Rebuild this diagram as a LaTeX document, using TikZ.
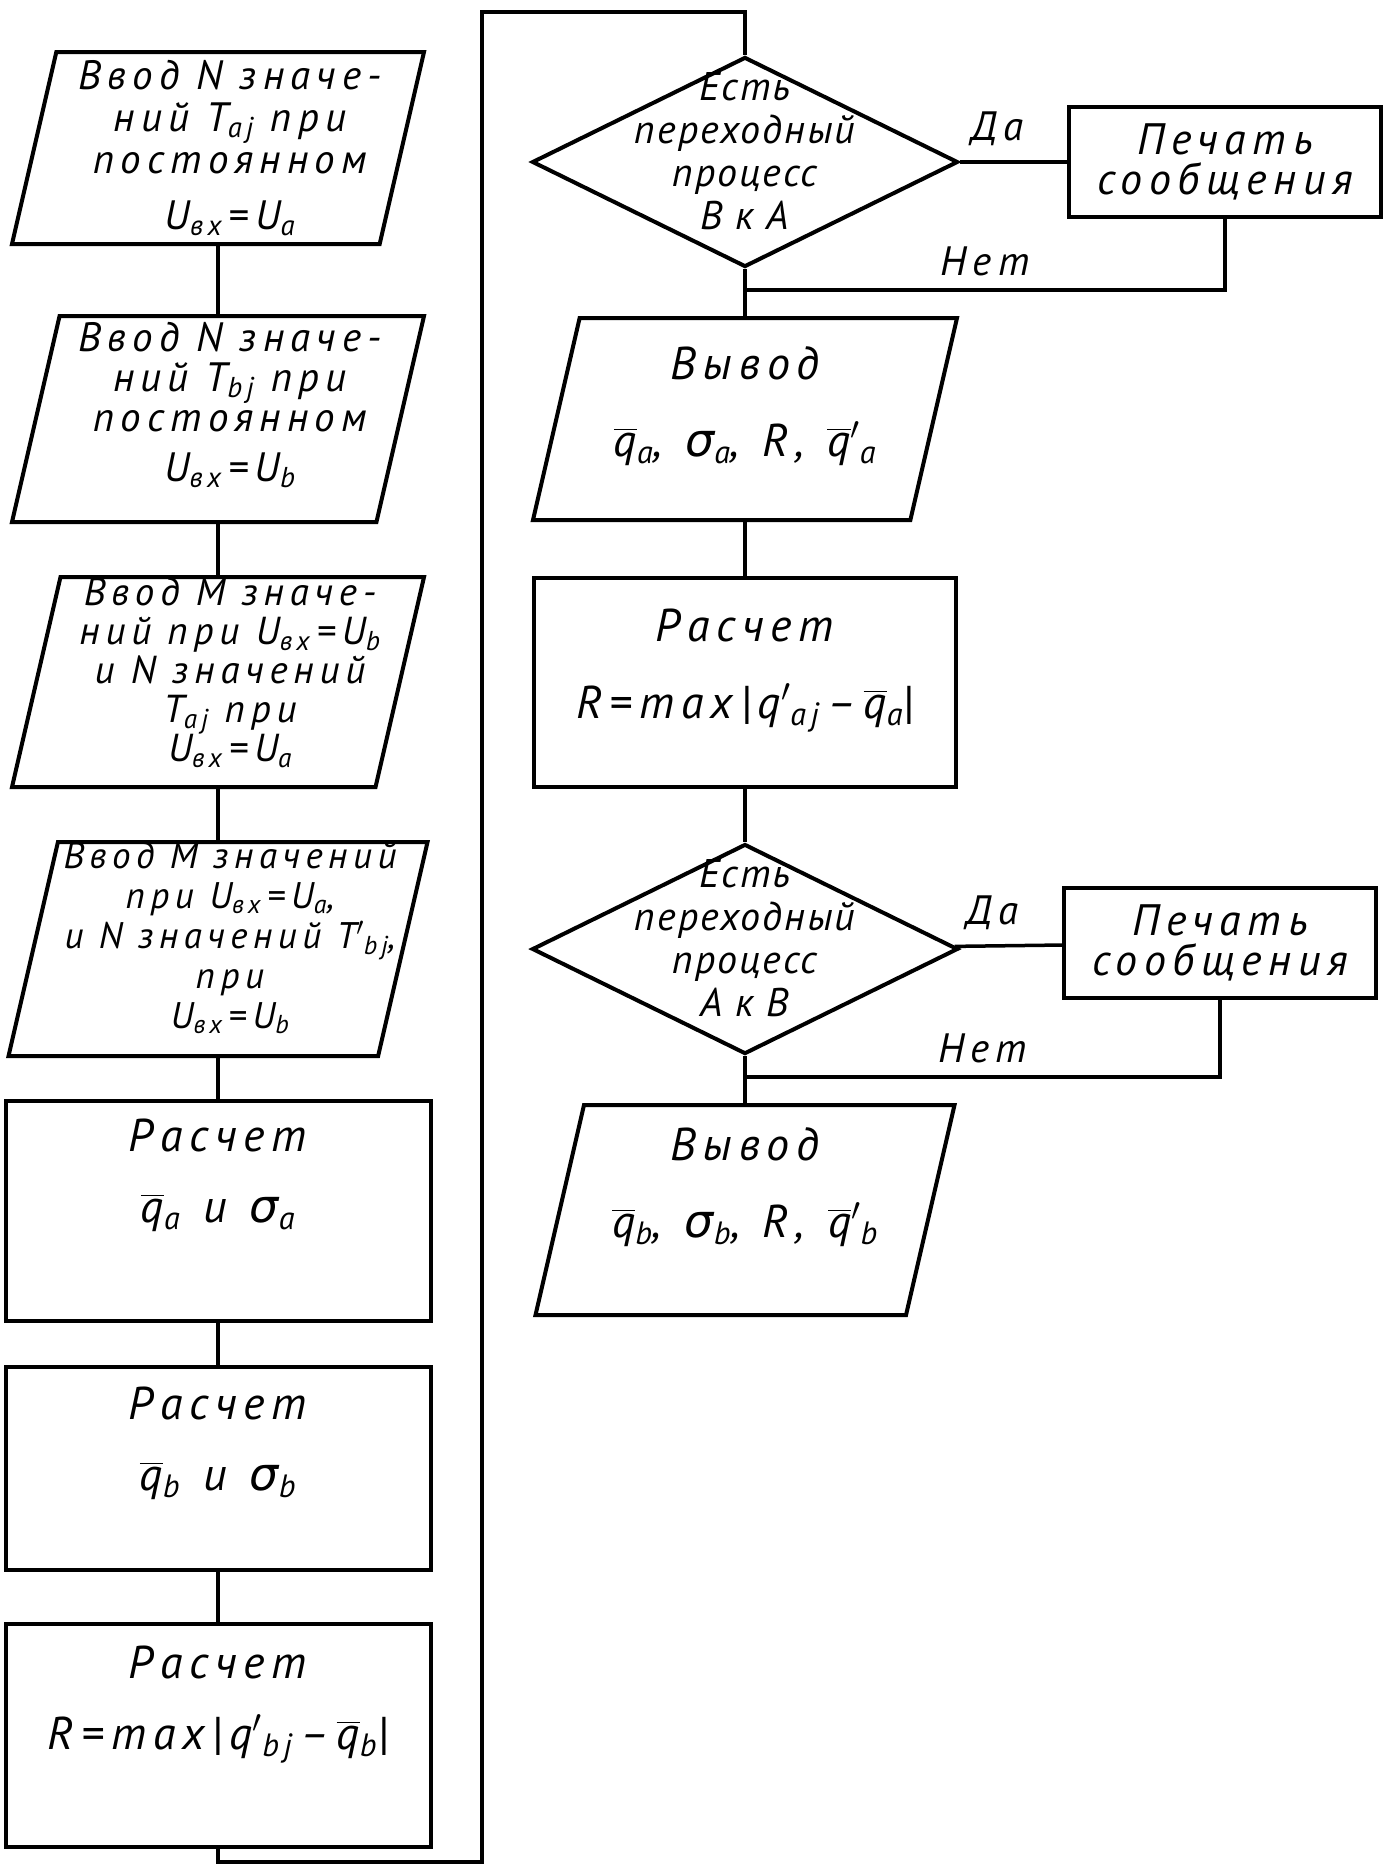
\RequirePackage{fix-cm}
\documentclass[tikz,border=0pt]{standalone}
\usepackage{amsmath}
\usepackage{fontspec}
\setmainfont{PT Sans}
\newfontfamily\gost[LetterSpace=15]{PT Sans}
\newfontfamily\narrow[LetterSpace=5]{PT Sans}
\newfontfamily\grk{DejaVu Sans}
\usepackage{tikz}
\usetikzlibrary{positioning,shapes.geometric}
\newcommand{\sub}[1]{\textsubscript{#1}}
\newcommand{\qb}{$\overline{\text{q}}$}
\newcommand{\sg}{{\grk\itshape σ}}
\newcommand{\pr}{$'$}

\begin{document}
\begin{tikzpicture}[x=1pt, y=-1pt, every node/.style={font=\fontsize{41}{40}\gost\itshape, inner sep=0pt}, io/.style={trapezium, trapezium left angle=77, trapezium right angle=103, trapezium stretches body=true, draw, line width=4pt, inner xsep=0pt, inner ysep=#1, minimum width=412pt}, iotext/.style={align=center, xshift=12pt}, calc/.style={rectangle, draw, line width=4pt, minimum width=425pt}, ctext/.style={align=center, font=\fontsize{46}{44}\gost\itshape}, decision/.style={diamond, draw, line width=4pt, minimum width=426pt, minimum height=210pt}, dtext/.style={font=\fontsize{40}{43}\narrow\itshape, align=center, yshift=11pt}, msg/.style={rectangle, draw, line width=4pt, align=center, font=\fontsize{44}{40}\gost\itshape, minimum width=312pt, minimum height=110pt}, conn/.style={line width=3.5pt}]
\useasboundingbox (0,0) rectangle (1387,1866);
\node[io=96pt, label={[iotext, font=\fontsize{41}{42}\gost\itshape]center:{Ввод N значе-\\ний T\sub{aj} при\\постоянном\\[14pt]U\sub{вх}\,=\,U\sub{a}}}] (in1) at (218,148) {};
\node[io=103pt, below=68pt of in1, label={[iotext, yshift=14pt]center:{Ввод N значе-\\ний T\sub{bj} при\\постоянном\\[10pt]U\sub{вх}\,=\,U\sub{b}}}] (in2) {};
\node[io=105pt, below=51pt of in2, label={[iotext, yshift=9pt, font=\fontsize{39}{39}\gost\itshape]center:{Ввод M значе-\\ний при U\sub{вх}\,=\,U\sub{b}\\и N значений\\T\sub{aj} при\\U\sub{вх}\,=\,U\sub{a}}}] (in3) {};
\node[io=107pt, minimum width=419pt, below=51pt of in3, label={[iotext, yshift=11pt, font=\fontsize{37}{40}\gost\itshape]center:{Ввод M значений\\при U\sub{вх}\,=\,U\sub{a},\\и N значений T\pr\sub{bj},\\при\\U\sub{вх}\,=\,U\sub{b}}}] (in4) {};
\node[calc, minimum height=220pt, below=41pt of in4, label={[ctext, yshift=36pt]center:{Расчет\\[27pt]\qb\sub{a}\enspace и\enspace \sg\sub{a}}}] (calc5) {};
\node[calc, minimum height=203pt, below=42pt of calc5, label={[ctext, yshift=25pt]center:{Расчет\\[27pt]\qb\sub{b}\enspace и\enspace \sg\sub{b}}}] (calc6) {};
\node[calc, minimum height=223pt, below=50pt of calc6, label={[ctext, yshift=31pt]center:{Расчет\\[27pt]R\,=\,max|q\pr\sub{bj}\,–\,\qb\sub{b}|}}] (calc7) {};
\node[decision, label={[dtext]center:{Есть\\переходный\\процесс\\В к А}}] (d1) at (745,162) {};
\node[msg, right=107pt of d1] (msg1) {Печать\\сообщения};
\node[io=101pt, minimum width=424pt, below=47pt of d1, label={[ctext, yshift=13pt]center:{Вывод\\[33pt]\qb\sub{a},\enspace\sg\sub{a},\enspace R,\enspace\qb\pr\sub{a}}}] (out1) {};
\node[calc, minimum height=209pt, minimum width=422pt, below=54pt of out1, label={[ctext, yshift=12pt]center:{Расчет\\[33pt]R\,=\,max|q\pr\sub{aj}\,–\,\qb\sub{a}|}}] (calc8) {};
\node[decision, below=53pt of calc8, label={[dtext]center:{Есть\\переходный\\процесс\\А к В}}] (d2) {};
\node[msg, right=102pt of d2, yshift=6pt] (msg2) {Печать\\сообщения};
\node[io=105pt, minimum width=419pt, below=47pt of d2, label={[ctext, yshift=23pt]center:{Вывод\\[33pt]\qb\sub{b},\enspace\sg\sub{b},\enspace R,\enspace\qb\pr\sub{b}}}] (out2) {};
\coordinate (j1) at ([yshift=-21pt]d1.south);
\coordinate (j2) at ([yshift=-21pt]d2.south);
\coordinate (lp1) at (482,1862);
\coordinate (lp2) at (482,12);
\draw[conn] (in1)--(in2); \draw[conn] (in2)--(in3); \draw[conn] (in3)--(in4); \draw[conn] (in4)--(calc5);
\draw[conn] (calc5)--(calc6); \draw[conn] (calc6)--(calc7);
\draw[conn] (calc7.south) |- (lp1) -- (lp2) -| (d1.north);
\draw[conn] (d1)-- node[pos=0.35, above=14pt]{Да} (msg1);
\draw[conn] (msg1.south) |- node[pos=0.75, above=12pt]{Нет} (j1);
\draw[conn] (d1)--(out1); \draw[conn] (out1)--(calc8); \draw[conn] (calc8)--(d2);
\draw[conn] (d2)-- node[pos=0.35, above=14pt]{Да} (msg2);
\draw[conn] (msg2.south) |- node[pos=0.75, above=12pt]{Нет} (j2);
\draw[conn] (d2)--(out2);
\end{tikzpicture}
\end{document}
